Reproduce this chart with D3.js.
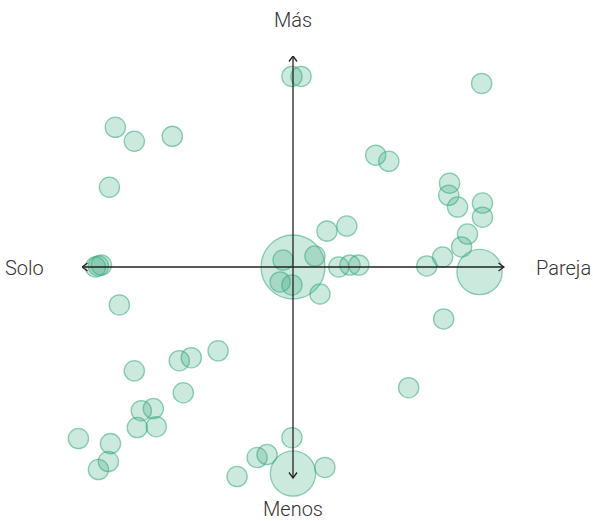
<!DOCTYPE html>
<html>
<head>
<meta charset="utf-8">
<script src="https://cdn.jsdelivr.net/npm/d3@7"></script>
<style>
  body { margin: 0; background: #fff; }
  text { font-family: Roboto, "Noto Sans", sans-serif; font-weight: 300; fill: #333; }
</style>
</head>
<body>
<div id="chart"></div>
<script>
// positions on a -100..100 scale, n = weight (drives radius)
const xs = [-0.5, 3.8, 89.4, -84.2, -75.2, -57.2, -87.0, 39.2, 45.4, 74.2, 73.8, 78.0, 89.8, 89.8, 82.7, 79.9, 70.9, 63.4, 88.4,
  0, -4.7, 10.4, -6.1, -0.5, 12.8, 16.1, 25.5, 21.7, 27.0, 31.2, -93.6, -92.2, -90.8, -82.3, 71.4, 54.8,
  -75.2, -53.9, -48.2, -35.5, -52.0, -71.9, -66.2, -73.8, -64.8, -101.7, -86.5, -87.5, -92.2,
  -0.5, -17.0, -12.3, 0, 15.1, -26.5];
const ys = [90.3, 90.3, 87.0, 66.2, 59.6, 61.9, 37.8, 53.0, 50.1, 39.7, 34.0, 28.4, 30.3, 23.6, 15.6, 9.5, 4.7, 0.5, -2.4,
  0, 3.3, 5.2, -7.1, -8.5, -12.8, 17.0, 19.4, 0, 0.9, 0.9, 0, 0.5, 0.9, -18.0, -24.6, -57.2,
  -49.2, -44.4, -43.0, -39.7, -59.6, -68.1, -67.1, -76.1, -75.7, -81.3, -83.7, -92.2, -96.0,
  -80.9, -90.3, -88.9, -97.9, -95.0, -99.3];
const ns = [1, 1, 1, 1, 1, 1, 1, 1, 1, 1, 1, 1, 1, 1, 1, 1, 1, 1, 5,
  10, 1, 1, 1, 1, 1, 1, 1, 1, 1, 1, 1, 1, 1, 1, 1, 1,
  1, 1, 1, 1, 1, 1, 1, 1, 1, 1, 1, 1, 1,
  1, 1, 1, 5, 1, 1];
const axisLabels = {top: "Más", bottom: "Menos", left: "Solo", right: "Pareja"};

const data = xs.map((x, i) => ({x: x, y: ys[i], n: ns[i]}));

const width = 593, height = 521;
const svg = d3.select("#chart").append("svg")
  .attr("width", width)
  .attr("height", height);

const x = d3.scaleLinear().domain([-100, 100]).range([82, 504]);
const y = d3.scaleLinear().domain([-100, 100]).range([478, 56]);
const r = d3.scaleSqrt().domain([0, 10]).range([0, 32]);

const green = "#34a87d";

svg.append("g")
  .selectAll("circle")
  .data(data)
  .enter()
  .append("circle")
  .attr("cx", d => x(d.x))
  .attr("cy", d => y(d.y))
  .attr("r", d => r(d.n))
  .attr("fill", green)
  .attr("fill-opacity", 0.25)
  .attr("stroke", green)
  .attr("stroke-opacity", 0.55)
  .attr("stroke-width", 1.3);

// arrow heads
svg.append("defs").append("marker")
  .attr("id", "arrow")
  .attr("viewBox", "0 0 10 10")
  .attr("refX", 9.5).attr("refY", 5)
  .attr("markerWidth", 10).attr("markerHeight", 10)
  .attr("markerUnits", "userSpaceOnUse")
  .attr("orient", "auto-start-reverse")
  .append("path")
  .attr("d", "M4,1 L9.5,5 L4,9")
  .attr("fill", "none")
  .attr("stroke", "#222")
  .attr("stroke-width", 1.3);

const axes = svg.append("g");
axes.append("line")
  .attr("x1", x(-100)).attr("x2", x(100))
  .attr("y1", y(0)).attr("y2", y(0))
  .attr("stroke", "#222").attr("stroke-width", 1.3)
  .attr("marker-start", "url(#arrow)")
  .attr("marker-end", "url(#arrow)");
axes.append("line")
  .attr("x1", x(0)).attr("x2", x(0))
  .attr("y1", y(100)).attr("y2", y(-100))
  .attr("stroke", "#222").attr("stroke-width", 1.3)
  .attr("marker-start", "url(#arrow)")
  .attr("marker-end", "url(#arrow)");

const labels = svg.append("g").style("font-size", "20px");
labels.append("text")
  .attr("x", x(0)).attr("y", 27)
  .attr("text-anchor", "middle")
  .text(axisLabels.top);
labels.append("text")
  .attr("x", x(0)).attr("y", 516)
  .attr("text-anchor", "middle")
  .text(axisLabels.bottom);
labels.append("text")
  .attr("x", 5).attr("y", 275)
  .text(axisLabels.left);
labels.append("text")
  .attr("x", 536).attr("y", 275)
  .text(axisLabels.right);
</script>
</body>
</html>
